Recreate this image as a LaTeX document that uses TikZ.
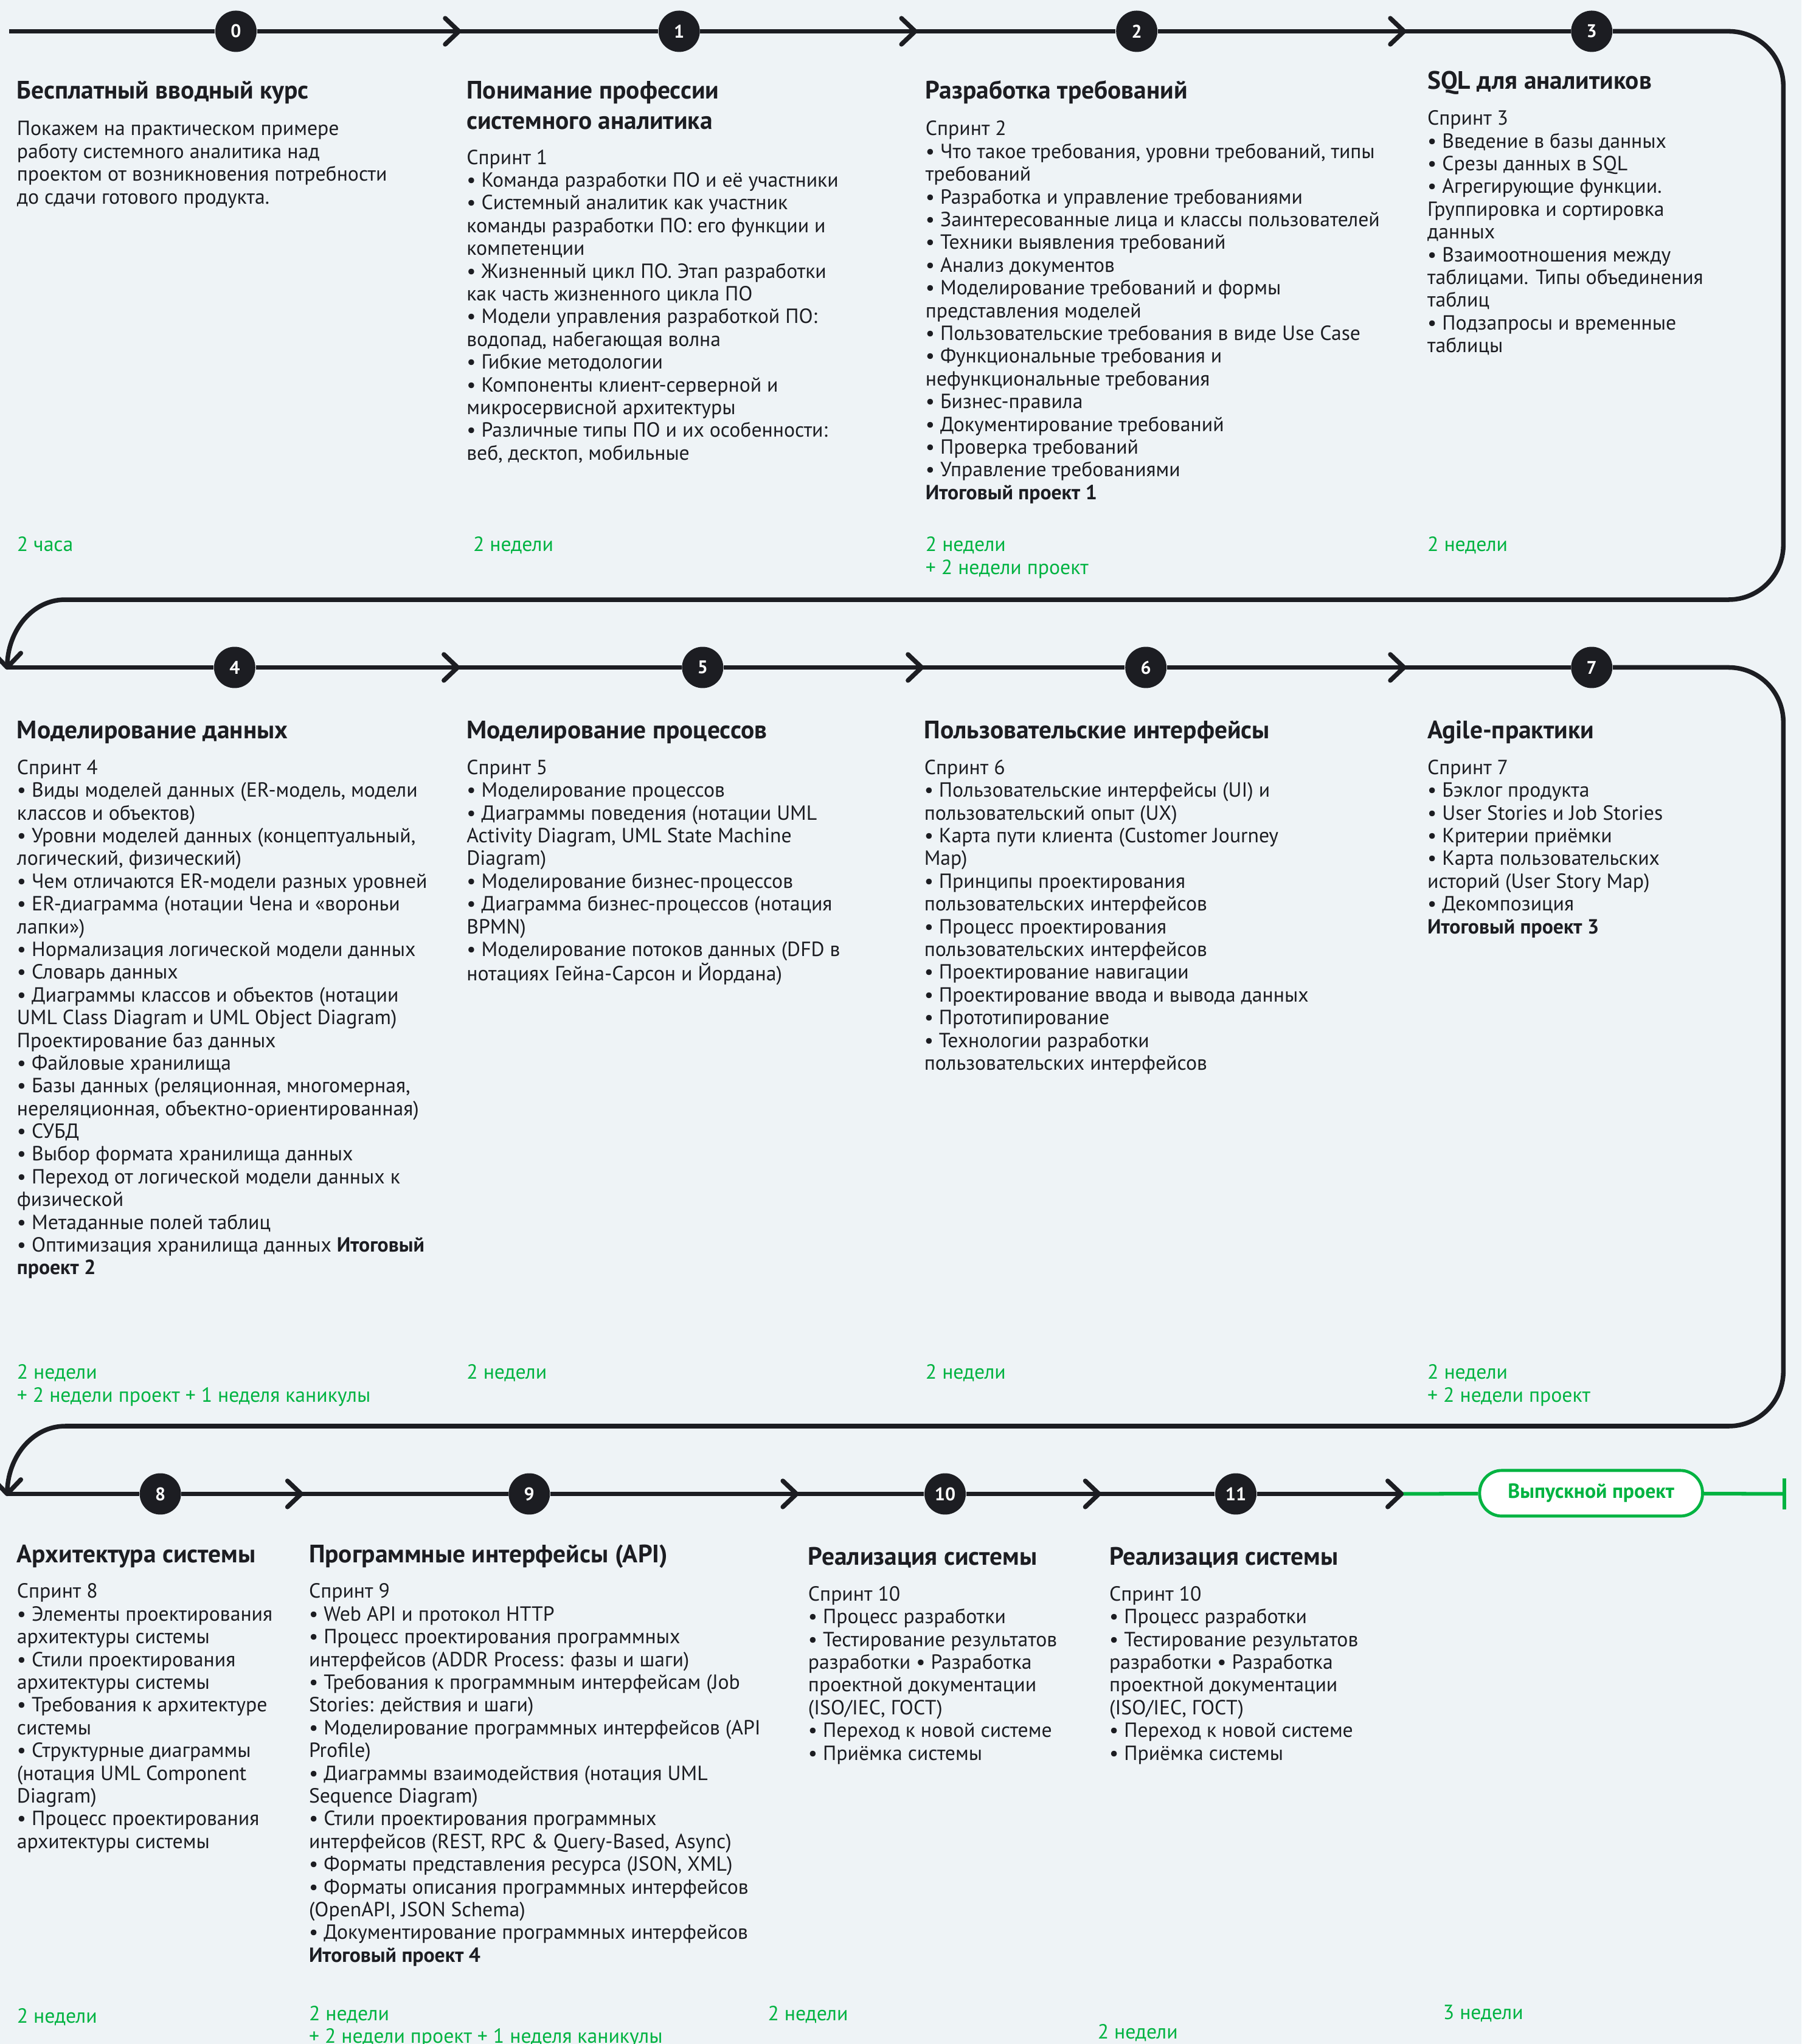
\documentclass[tikz,border=0pt]{standalone}
\usepackage{fontspec}
\setmainfont{PT Sans}
\definecolor{bg}{HTML}{EEF3F6}
\definecolor{ink}{HTML}{1C1D22}
\definecolor{grn}{HTML}{00B341}
\newcommand\bodyf{\fontsize{8.95}{9.93}\selectfont}
\newcommand\titlef{\fontsize{11}{13.1}\selectfont\bfseries}
\newcommand\numf{\fontsize{8}{9}\selectfont\bfseries}
\newcommand\tb[4]{\node[#1] (#2) at (#3) {\begin{tabular}[t]{@{}l@{}}#4\end{tabular}};}
\begin{document}
\begin{tikzpicture}[x=0.02cm,y=-0.02cm,
  txt/.style={anchor=base west, inner sep=0pt, outer sep=0pt, text=ink},
  ttl/.style={txt, font=\titlef},
  bod/.style={txt, font=\bodyf},
  dur/.style={txt, font=\bodyf, text=grn},
  num/.style={circle, fill=ink, text=white, font=\numf, minimum size=6.34mm, inner sep=0pt},
  route/.style={draw=ink, line width=2pt},
  chev/.style={draw=ink, line width=2pt, line cap=round, line join=round},
  groute/.style={draw=grn, line width=1.6pt},
  pill/.style={draw=grn, fill=white, line width=1.3pt, rounded corners=3.4mm, minimum width=34.2mm, minimum height=7mm, text=grn, font=\bodyf\bfseries, inner sep=0pt},
]
\fill[bg] (0,0) rectangle (1382,1568);
\useasboundingbox (0,0) rectangle (1382,1568);

% ---------- circles ----------
\node[num] (c0) at (181,24) {0};
\node[num] (c1) at (521,24) {1};
\node[num] (c2) at (872,24) {2};
\node[num] (c3) at (1221,24) {3};
\node[num] (c4) at (180,512) {4};
\node[num] (c5) at (539,512) {5};
\node[num] (c6) at (879,512) {6};
\node[num] (c7) at (1221,512) {7};
\node[num] (c8) at (123,1146) {8};
\node[num] (c9) at (406,1146) {9};
\node[num] (c10) at (725,1146) {10};
\node[num] (c11) at (948,1146) {11};
\node[pill] (fin) at (1220.5,1145.5) {Выпускной проект};

% ---------- coordinates ----------
\coordinate (s1) at (7,24);
\coordinate (a01) at (352,24);
\coordinate (a12) at (702,24);
\coordinate (a23) at (1077,24);
\coordinate (r2s) at (5.5,512);
\coordinate (a45) at (351,512);
\coordinate (a56) at (707,512);
\coordinate (a67) at (1077,512);
\coordinate (r3s) at (5.5,1146);
\coordinate (a89) at (231,1146);
\coordinate (a910) at (611,1146);
\coordinate (a1011) at (843,1146);
\coordinate (a11f) at (1075,1146);
\coordinate (endp) at (1369,1146);

% ---------- route ----------
\draw[route] (s1) -- (c0) -- (a01) -- (c1) -- (a12) -- (c2) -- (a23) -- (c3);
\draw[route] (c3) -- (1326,24) .. controls (1349.2,24) and (1368,42.8) .. (1368,66)
  -- (1368,418) .. controls (1368,441.2) and (1349.2,460) .. (1326,460)
  -- (50,460) .. controls (25.2,460) and (5.5,483.3) .. (r2s);
\draw[route] (r2s) -- (c4) -- (a45) -- (c5) -- (a56) -- (c6) -- (a67) -- (c7);
\draw[route] (c7) -- (1326,512) .. controls (1349.2,512) and (1368,530.8) .. (1368,554)
  -- (1368,1052) .. controls (1368,1075.2) and (1349.2,1094) .. (1326,1094)
  -- (50,1094) .. controls (25.2,1094) and (5.5,1117.3) .. (r3s);
\draw[route] (r3s) -- (c8) -- (a89) -- (c9) -- (a910) -- (c10) -- (a1011) -- (c11) -- (a11f);
\draw[groute] (a11f) -- (fin) -- (endp);
\draw[groute] (endp) ++(0,-12) -- ++(0,24);

% chevrons
\foreach \a in {a01,a12,a23,a45,a56,a67,a89,a910,a1011,a11f}
  \draw[chev] (\a) ++(-10.5,-10) -- (\a) -- ++(-10.5,10);
\draw[chev] (r2s) ++(-10.5,-11) -- (r2s) -- ++(10.5,-11);
\draw[chev] (r3s) ++(-10.5,-11) -- (r3s) -- ++(10.5,-11);

% ---------- row 1 texts ----------
\tb{ttl}{t0}{13,76}{Бесплатный вводный курс}
\tb{bod}{b0}{13,104}{Покажем на практическом примере\\работу системного аналитика над\\проектом от возникновения потребности\\до сдачи готового продукта.}
\tb{dur}{d0}{13,423}{2 часа}

\tb{ttl}{t1}{358,76}{Понимание профессии\\системного аналитика}
\tb{bod}{b1}{358,126}{Спринт 1\\
• Команда разработки ПО и её участники\\
• Системный аналитик как участник\\
команды разработки ПО: его функции и\\
компетенции\\
• Жизненный цикл ПО. Этап разработки\\
как часть жизненного цикла ПО\\
• Модели управления разработкой ПО:\\
водопад, набегающая волна\\
• Гибкие методологии\\
• Компоненты клиент-серверной и\\
микросервисной архитектуры\\
• Различные типы ПО и их особенности:\\
веб, десктоп, мобильные}
\tb{dur}{d1}{363,423}{2 недели}

\tb{ttl}{t2}{710,76}{Разработка требований}
\tb{bod}{b2}{710,104}{Спринт 2\\
• Что такое требования, уровни требований, типы\\
требований\\
• Разработка и управление требованиями\\
• Заинтересованные лица и классы пользователей\\
• Техники выявления требований\\
• Анализ документов\\
• Моделирование требований и формы\\
представления моделей\\
• Пользовательские требования в виде Use Case\\
• Функциональные требования и\\
нефункциональные требования\\
• Бизнес-правила\\
• Документирование требований\\
• Проверка требований\\
• Управление требованиями\\
{\bfseries Итоговый проект 1}}
\tb{dur}{d2}{710,423}{2 недели\\+ 2 недели проект}

\tb{ttl}{t3}{1095,68.5}{SQL для аналитиков}
\tb{bod}{b3}{1095,96}{Спринт 3\\
• Введение в базы данных\\
• Срезы данных в SQL\\
• Агрегирующие функции.\\
Группировка и сортировка\\
данных\\
• Взаимоотношения между\\
таблицами. Типы объединения\\
таблиц\\
• Подзапросы и временные\\
таблицы}
\tb{dur}{d3}{1095,423}{2 недели}

% ---------- row 2 texts ----------
\tb{ttl}{t4}{13,566.5}{Моделирование данных}
\tb{bod}{b4}{13,594}{Спринт 4\\
• Виды моделей данных (ER-модель, модели\\
классов и объектов)\\
• Уровни моделей данных (концептуальный,\\
логический, физический)\\
• Чем отличаются ER-модели разных уровней\\
• ER-диаграмма (нотации Чена и «вороньи\\
лапки»)\\
• Нормализация логической модели данных\\
• Словарь данных\\
• Диаграммы классов и объектов (нотации\\
UML Class Diagram и UML Object Diagram)\\
Проектирование баз данных\\
• Файловые хранилища\\
• Базы данных (реляционная, многомерная,\\
нереляционная, объектно-ориентированная)\\
• СУБД\\
• Выбор формата хранилища данных\\
• Переход от логической модели данных к\\
физической\\
• Метаданные полей таблиц\\
• Оптимизация хранилища данных {\bfseries Итоговый}\\
{\bfseries проект 2}}
\tb{dur}{d4}{13,1058}{2 недели\\+ 2 недели проект + 1 неделя каникулы}

\tb{ttl}{t5}{358,566.5}{Моделирование процессов}
\tb{bod}{b5}{358,594}{Спринт 5\\
• Моделирование процессов\\
• Диаграммы поведения (нотации UML\\
Activity Diagram, UML State Machine\\
Diagram)\\
• Моделирование бизнес-процессов\\
• Диаграмма бизнес-процессов (нотация\\
BPMN)\\
• Моделирование потоков данных (DFD в\\
нотациях Гейна-Сарсон и Йордана)}
\tb{dur}{d5}{358,1058}{2 недели}

\tb{ttl}{t6}{709,566.5}{Пользовательские интерфейсы}
\tb{bod}{b6}{709,594}{Спринт 6\\
• Пользовательские интерфейсы (UI) и\\
пользовательский опыт (UX)\\
• Карта пути клиента (Customer Journey\\
Map)\\
• Принципы проектирования\\
пользовательских интерфейсов\\
• Процесс проектирования\\
пользовательских интерфейсов\\
• Проектирование навигации\\
• Проектирование ввода и вывода данных\\
• Прототипирование\\
• Технологии разработки\\
пользовательских интерфейсов}
\tb{dur}{d6}{710,1058}{2 недели}

\tb{ttl}{t7}{1095,566.5}{Agile-практики}
\tb{bod}{b7}{1095,594}{Спринт 7\\
• Бэклог продукта\\
• User Stories и Job Stories\\
• Критерии приёмки\\
• Карта пользовательских\\
историй (User Story Map)\\
• Декомпозиция\\
{\bfseries Итоговый проект 3}}
\tb{dur}{d7}{1095,1058}{2 недели\\+ 2 недели проект}

% ---------- row 3 texts ----------
\tb{ttl}{t8}{13,1198.5}{Архитектура системы}
\tb{bod}{b8}{13,1226}{Спринт 8\\
• Элементы проектирования\\
архитектуры системы\\
• Стили проектирования\\
архитектуры системы\\
• Требования к архитектуре\\
системы\\
• Структурные диаграммы\\
(нотация UML Component\\
Diagram)\\
• Процесс проектирования\\
архитектуры системы}
\tb{dur}{d8}{13,1552}{2 недели}

\tb{ttl}{t9}{237,1198.5}{Программные интерфейсы (API)}
\tb{bod}{b9}{237,1226}{Спринт 9\\
• Web API и протокол HTTP\\
• Процесс проектирования программных\\
интерфейсов (ADDR Process: фазы и шаги)\\
• Требования к программным интерфейсам (Job\\
Stories: действия и шаги)\\
• Моделирование программных интерфейсов (API\\
Profile)\\
• Диаграммы взаимодействия (нотация UML\\
Sequence Diagram)\\
• Стили проектирования программных\\
интерфейсов (REST, RPC \& Query-Based, Async)\\
• Форматы представления ресурса (JSON, XML)\\
• Форматы описания программных интерфейсов\\
(OpenAPI, JSON Schema)\\
• Документирование программных интерфейсов\\
{\bfseries Итоговый проект 4}}
\tb{dur}{d9}{237,1550}{2 недели\\+ 2 недели проект + 1 неделя каникулы}

\tb{ttl}{t10}{620,1200.5}{Реализация системы}
\tb{bod}{b10}{620,1228}{Спринт 10\\
• Процесс разработки\\
• Тестирование результатов\\
разработки • Разработка\\
проектной документации\\
(ISO/IEC, ГОСТ)\\
• Переход к новой системе\\
• Приёмка системы}
\tb{dur}{d10}{589,1550}{2 недели}

\tb{ttl}{t11}{851,1200.5}{Реализация системы}
\tb{bod}{b11}{851,1228}{Спринт 10\\
• Процесс разработки\\
• Тестирование результатов\\
разработки • Разработка\\
проектной документации\\
(ISO/IEC, ГОСТ)\\
• Переход к новой системе\\
• Приёмка системы}
\tb{dur}{d11}{842,1564}{2 недели}

\tb{dur}{d12}{1107,1549}{3 недели}
\end{tikzpicture}
\end{document}
